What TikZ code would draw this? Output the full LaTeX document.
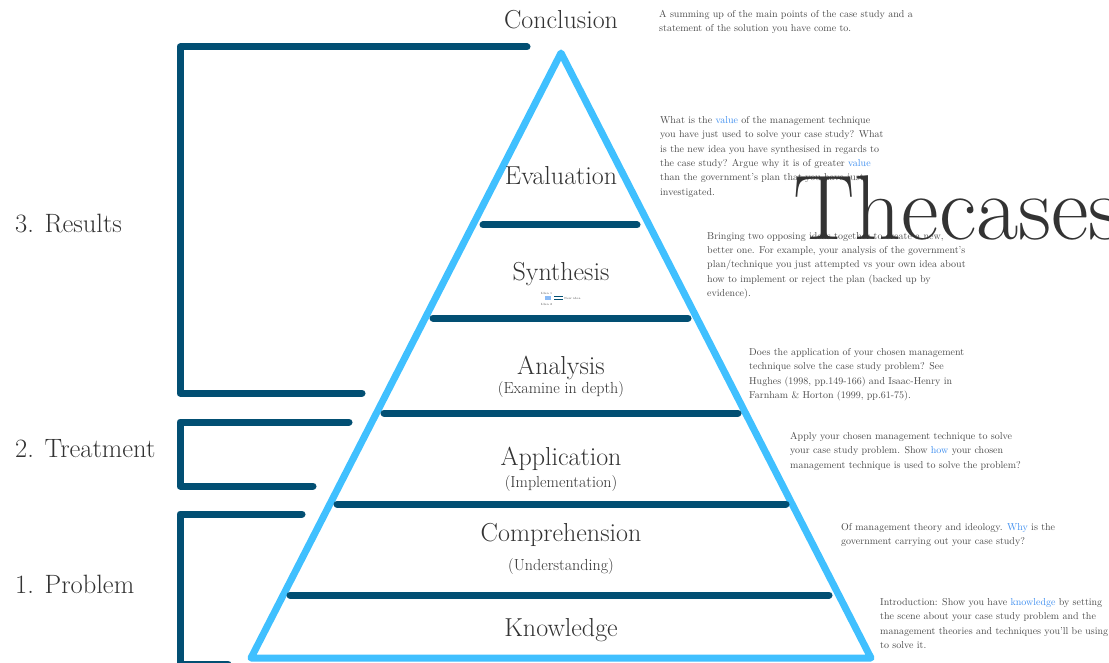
\documentclass[tikz,border=0pt]{standalone}
\usepackage{fontspec}
\definecolor{pyr}{HTML}{40C0FF}
\definecolor{bar}{HTML}{024F73}
\definecolor{txt}{HTML}{333333}
\definecolor{desc}{HTML}{4A4A4A}
\definecolor{lnk}{HTML}{3D8EF0}
\newcommand{\lk}[1]{\textcolor{lnk}{#1}}
\begin{document}
\begin{tikzpicture}[x=1pt,y=-1pt,
  pyrline/.style={draw=pyr,line width=7pt,line join=round},
  barline/.style={draw=bar,line width=7pt,line cap=round,line join=round},
  level/.style={text=txt,font=\fontsize{26}{28}\selectfont,inner sep=0pt},
  sublevel/.style={text=txt,font=\fontsize{16}{18}\selectfont,inner sep=0pt},
  side/.style={text=txt,font=\fontsize{26.5}{28}\selectfont,inner sep=0pt,anchor=west},
  note/.style={text=desc,font=\fontsize{10}{14.4}\selectfont,align=left,anchor=north west,inner sep=0pt},
  tiny/.style={text=desc,font=\fontsize{3}{3}\selectfont,inner sep=0pt}]
\clip (0,0) rectangle (1109,663);
\fill[white] (0,0) rectangle (1109,663);

% pyramid
\coordinate (apex) at (561,53);
\coordinate (bl) at (251,658);
\coordinate (br) at (871,658);
\draw[pyrline] (apex) -- (bl) -- (br) -- cycle;

% level bars
\coordinate (b1l) at (483,225); \coordinate (b1r) at (637,225);
\coordinate (b2l) at (433,318); \coordinate (b2r) at (688,318);
\coordinate (b3l) at (384,413); \coordinate (b3r) at (738,413);
\coordinate (b4l) at (337,504); \coordinate (b4r) at (786,504);
\coordinate (b5l) at (290,595); \coordinate (b5r) at (829,595);
\draw[barline] (b1l) -- (b1r);
\draw[barline] (b2l) -- (b2r);
\draw[barline] (b3l) -- (b3r);
\draw[barline] (b4l) -- (b4r);
\draw[barline] (b5l) -- (b5r);

% brackets
\coordinate (r1) at (527,47); \coordinate (r2) at (180,47);
\coordinate (r3) at (180,393); \coordinate (r4) at (362,393);
\draw[barline] (r1) -- (r2) -- (r3) -- (r4);
\coordinate (t1) at (349,422); \coordinate (t2) at (180,422);
\coordinate (t3) at (180,486); \coordinate (t4) at (313,486);
\draw[barline] (t1) -- (t2) -- (t3) -- (t4);
\coordinate (p1) at (302,514); \coordinate (p2) at (180,514);
\coordinate (p3) at (180,664); \coordinate (p4) at (228,664);
\draw[barline] (p1) -- (p2) -- (p3) -- (p4);

% side labels
\node[side] (lres) at (15,224) {3. Results};
\node[side] (ltre) at (15,449) {2. Treatment};
\node[side] (lpro) at (15,584) {1. Problem};

% level labels
\node[level] (conc) at (561,20) {Conclusion};
\node[level] (eval) at (561,176) {Evaluation};
\node[level] (synt) at (561,274) {Synthesis};
\node[level] (anal) at (561,368) {Analysis};
\node[sublevel] (anals) at (561,390) {(Examine in depth)};
\node[level] (appl) at (561,459) {Application};
\node[sublevel] (appls) at (561,484) {(Implementation)};
\node[level] (comp) at (561,535) {Comprehension};
\node[sublevel] (comps) at (561,567) {(Understanding)};
\node[level] (know) at (561,630) {Knowledge};

% tiny sketch under Synthesis
\node[tiny,anchor=west] (idea1) at (541,293) {Idea 1};
\node[tiny,anchor=west] (idea2) at (541,304) {Idea 2};
\fill[lnk!60] (545,296.5) rectangle (551,300);
\fill[bar] (554,296.5) rectangle (563,297.5);
\fill[bar] (554,299) rectangle (563,300);
\node[tiny,anchor=west] (newidea) at (564,298.5) {New idea};

% notes
\node[note] (nconc) at (659,10) {A summing up of the main points of the case study and a\\statement of the solution you have come to.};
\node[note] (neval) at (660,116) {What is the \lk{value} of the management technique\\you have just used to solve your case study? What\\is the new idea you have synthesised in regards to\\the case study? Argue why it is of greater \lk{value}\\than the government's plan that you have just\\investigated.};
\node[note] (nsynt) at (707,232) {Bringing two opposing ideas together to create a new,\\better one. For example, your analysis of the government's\\plan/technique you just attempted vs your own idea about\\how to implement or reject the plan (backed up by\\evidence).};
\node[note] (nanal) at (749,348) {Does the application of your chosen management\\technique solve the case study problem? See\\Hughes (1998, pp.149-166) and Isaac-Henry in\\Farnham \& Horton (1999, pp.61-75).};
\node[note] (nappl) at (790,432) {Apply your chosen management technique to solve\\your case study problem. Show \lk{how} your chosen\\management technique is used to solve the problem?};
\node[note] (ncomp) at (841,523) {Of management theory and ideology. \lk{Why} is the\\government carrying out your case study?};
\node[note] (nknow) at (880,598) {Introduction: Show you have \lk{knowledge} by setting\\the scene about your case study problem and the\\management theories and techniques you'll be using\\to solve it.};

% big title
\node[text=txt,font=\fontsize{92}{94}\selectfont,anchor=base west,inner sep=0pt] (title) at (793,240) {Thecases};
\end{tikzpicture}
\end{document}
